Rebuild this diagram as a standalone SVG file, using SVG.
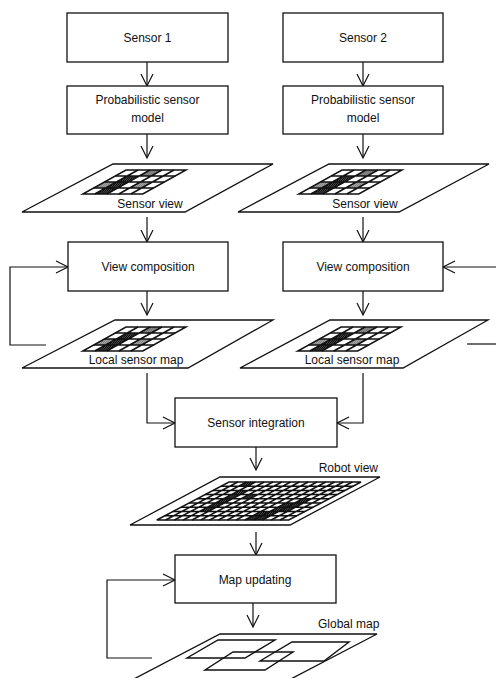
<svg xmlns="http://www.w3.org/2000/svg" width="496" height="678" viewBox="0 0 496 678">
<style>
.box{fill:#fff;stroke:#111;stroke-width:1.3}
.plane{fill:#fff;stroke:#111;stroke-width:1.3;stroke-linejoin:miter}
.t{font-family:"Liberation Sans",Arial,sans-serif;font-size:12px;fill:#111;text-anchor:middle}
.g{fill:none;stroke:#111;stroke-width:1.4}
.gl{stroke:#111;stroke-width:1.5;vector-effect:non-scaling-stroke}
.dk{fill:url(#hatch)}
.c{fill:none;stroke:#111;stroke-width:1.2}
</style>
<defs>
<pattern id="hatch" patternUnits="userSpaceOnUse" width="2" height="2">
<rect width="2" height="2" fill="#555"/>
<rect width="1" height="1" fill="#000"/>
<rect x="1" y="1" width="1" height="1" fill="#000"/>
</pattern>
<marker id="ah" markerUnits="userSpaceOnUse" markerWidth="14" markerHeight="14" refX="12" refY="6" orient="auto" overflow="visible">
<path d="M0,0 L12,6 L0,12" fill="none" stroke="#111" stroke-width="1.2"/>
</marker>
<g id="smallgrid">
<rect x="12" y="6" width="12" height="18" class="dk"/>
<rect x="0" y="12" width="12" height="6" class="dk" opacity="0.5"/>
<rect x="24" y="0" width="12" height="6" class="dk" opacity="0.6"/>
<rect x="36" y="12" width="12" height="6" class="dk" opacity="0.5"/>
<rect x="0" y="0" width="60" height="24" fill="none" class="gl"/>
<path class="gl" d="M12,0V24M24,0V24M36,0V24M48,0V24M0,6H60M0,12H60M0,18H60"/>
</g>
</defs>
<rect width="496" height="678" fill="#fff"/>

<g id="connectors">
<path class="c" d="M147,62V86" marker-end="url(#ah)"/>
<path class="c" d="M363,62V86" marker-end="url(#ah)"/>
<path class="c" d="M147,134V158" marker-end="url(#ah)"/>
<path class="c" d="M363,134V158" marker-end="url(#ah)"/>
<path class="c" d="M147,217V242" marker-end="url(#ah)"/>
<path class="c" d="M363,217V242" marker-end="url(#ah)"/>
<path class="c" d="M147,291V315" marker-end="url(#ah)"/>
<path class="c" d="M363,291V315" marker-end="url(#ah)"/>
<path class="c" d="M46,345H10V267H68" marker-end="url(#ah)"/>
<path class="c" d="M497,267H443" marker-end="url(#ah)"/>
<path class="c" d="M467,344H497"/>
<path class="c" d="M147,373V423H175" marker-end="url(#ah)"/>
<path class="c" d="M363,373V423H337" marker-end="url(#ah)"/>
<path class="c" d="M256,447V470" marker-end="url(#ah)"/>
<path class="c" d="M256,532V555" marker-end="url(#ah)"/>
<path class="c" d="M152,658H107V580H175" marker-end="url(#ah)"/>
<path class="c" d="M253,603V627" marker-end="url(#ah)"/>
</g>

<g id="sensor1"><rect class="box" x="67" y="13" width="161" height="49"/><text class="t" x="147.5" y="42">Sensor 1</text></g>
<g id="sensor2"><rect class="box" x="283" y="13" width="160" height="49"/><text class="t" x="363" y="42">Sensor 2</text></g>
<g id="model1"><rect class="box" x="67" y="86" width="161" height="48"/><text class="t" x="147.5" y="104">Probabilistic sensor</text><text class="t" x="147.5" y="122">model</text></g>
<g id="model2"><rect class="box" x="283" y="86" width="160" height="48"/><text class="t" x="363" y="104">Probabilistic sensor</text><text class="t" x="363" y="122">model</text></g>

<g id="sensorview1">
<polygon class="plane" points="113,164 273,164 185,212 22,212"/>
<use href="#smallgrid" transform="matrix(1,0,-1.8,1,126,170)"/>
<text class="t" x="150" y="208">Sensor view</text>
</g>
<g id="sensorview2">
<polygon class="plane" points="329,164 489,164 399,212 238,212"/>
<use href="#smallgrid" transform="matrix(1,0,-1.8,1,342,170)"/>
<text class="t" x="365" y="208">Sensor view</text>
</g>

<g id="composition1"><rect class="box" x="68" y="242" width="160" height="49"/><text class="t" x="148" y="271">View composition</text></g>
<g id="composition2"><rect class="box" x="283" y="242" width="160" height="49"/><text class="t" x="363" y="271">View composition</text></g>

<g id="localmap1">
<polygon class="plane" points="115,320 273,320 188,368 22,368"/>
<use href="#smallgrid" transform="matrix(1,0,-1.8,1,126,327)"/>
<text class="t" x="136" y="364">Local sensor map</text>
</g>
<g id="localmap2">
<polygon class="plane" points="330,320 488,320 403,368 240,368"/>
<use href="#smallgrid" transform="matrix(1,0,-1.8,1,341,327)"/>
<text class="t" x="352" y="364">Local sensor map</text>
</g>

<g id="integration"><rect class="box" x="175" y="398" width="162" height="49"/><text class="t" x="256" y="427">Sensor integration</text></g>

<g id="robotview">
<polygon class="plane" points="220,477 380,477 290,525 130,525" stroke-width="1.6"/>
<g transform="matrix(1,0,-1.9,1,229,482)">
<path class="dk" d="M17.6,0h8.8v4.2h-8.8zM26.4,8.4h8.8v21h-8.8zM44,12.6h8.8v4.2h-8.8zM96.8,21h17.6v8.4h-17.6zM105.6,16.8h8.8v4.2h-8.8zM88,29.4h17.6v8.6h-17.6z"/>
<rect x="0" y="0" width="132" height="38" fill="none" class="gl"/>
<path class="gl" d="M8.8,0V38M17.6,0V38M26.4,0V38M35.2,0V38M44,0V38M52.8,0V38M61.6,0V38M70.4,0V38M79.2,0V38M88,0V38M96.8,0V38M105.6,0V38M114.4,0V38M123.2,0V38M0,4.2H132M0,8.4H132M0,12.6H132M0,16.8H132M0,21H132M0,25.3H132M0,29.5H132M0,33.8H132"/>
</g>
<text class="t" x="378" y="472" style="text-anchor:end">Robot view</text>
</g>

<g id="mapupdating"><rect class="box" x="175" y="555" width="161" height="48"/><text class="t" x="255" y="584">Map updating</text></g>

<g id="globalmap">
<polyline class="plane" fill="none" points="130,681 220,634 377,634 287,681"/>
<polygon class="g" points="218,640 275,640 245,658 187,658"/>
<polygon class="g" points="292,642 349,642 324,661 260,661"/>
<polygon class="g" points="233,652 293,652 265,670 205,670"/>
<text class="t" x="318" y="628" style="text-anchor:start">Global map</text>
</g>
</svg>
